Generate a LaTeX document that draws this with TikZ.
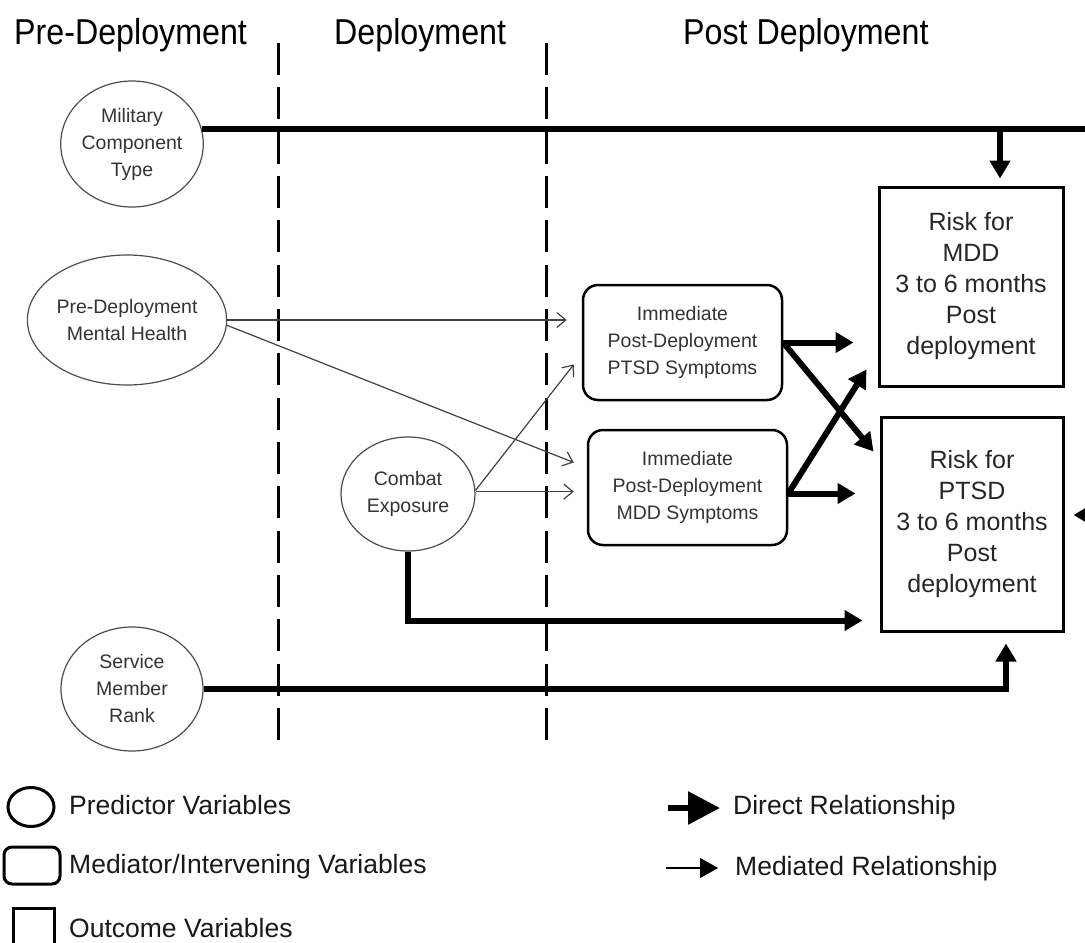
\documentclass[tikz,border=0pt]{standalone}
\usepackage{fontspec}
\usepackage{graphicx}
\setmainfont{Liberation Sans}
\usetikzlibrary{arrows.meta,shapes.geometric}

\tikzset{
  predictor/.style={ellipse, draw=black!70, line width=1.2pt, inner sep=0pt,
    align=center, text=black!80, font=\fontsize{19.5}{27}\selectfont},
  mediator/.style={rectangle, rounded corners=15pt, draw, line width=2.5pt,
    inner sep=0pt, align=center, text=black!80, font=\fontsize{19.5}{27}\selectfont},
  outcome/.style={rectangle, draw, line width=3pt, inner sep=0pt,
    align=center, text=black!85, font=\fontsize{25}{31}\selectfont},
  direct/.style={line width=6pt, line join=miter,
    -{Triangle[length=18pt,width=20pt]}},
  mediated/.style={line width=1.2pt, draw=black!75,
    -{Straight Barb[length=9pt,width=15pt]}},
  divider/.style={line width=3pt, dash pattern=on 32pt off 12.33pt},
  phase/.style={font=\fontsize{36}{40}\selectfont, anchor=base west, inner sep=0pt},
  legendtext/.style={font=\fontsize{26.5}{30}\selectfont, anchor=base west,
    inner sep=0pt, text=black!90},
}

\begin{document}
\begin{tikzpicture}[x=1pt, y=-1pt]
  \useasboundingbox (0,0) rectangle (1085,943);

  % phase headings
  \node[phase] (hPre)  at (14,44.5)  {\scalebox{0.895}[1]{Pre-Deployment}};
  \node[phase] (hDep)  at (334,44.5) {\scalebox{0.895}[1]{Deployment}};
  \node[phase] (hPost) at (683,44.5) {\scalebox{0.895}[1]{Post Deployment}};

  % phase dividers
  \draw[divider] (278,43) -- (278,740);
  \draw[divider] (546,43) -- (546,740);

  % predictors
  \node[predictor, minimum width=142, minimum height=126] (Mil)  at (132,144) {Military\\Component\\Type};
  \node[predictor, minimum width=170, minimum height=130] (PDMH) at (127,320) {Pre-Deployment\\Mental Health};
  \node[predictor, minimum width=134, minimum height=114] (Comb) at (408,494) {Combat\\Exposure};
  \node[predictor, minimum width=142, minimum height=124] (Rank) at (132,689) {Service\\Member\\Rank};

  % mediators
  \node[mediator, minimum width=199, minimum height=115] (PTSDmed) at (682.5,342.5) {Immediate\\Post-Deployment\\PTSD Symptoms};
  \node[mediator, minimum width=199, minimum height=115] (MDDmed)  at (687.5,487.5) {Immediate\\Post-Deployment\\MDD Symptoms};

  % outcomes
  \node[outcome, minimum width=184, minimum height=199] (MDDout)  at (971,286.5) {Risk for\\MDD\\3 to 6 months\\Post\\deployment};
  \node[outcome, minimum width=182, minimum height=214] (PTSDout) at (972,524)   {Risk for\\PTSD\\3 to 6 months\\Post\\deployment};

  % helper points
  \coordinate (edgeR) at (1100,0);
  \coordinate (tapTip)  at ([xshift=29pt,yshift=7pt]MDDout.north);
  \coordinate (rightIn) at ([xshift=9pt,yshift=9pt]PTSDout.east);
  \coordinate (rankTip) at ([xshift=34pt,yshift=-11pt]PTSDout.south);
  \coordinate (combTip) at ([xshift=-17pt,yshift=12pt]PTSDout.south west);
  \coordinate (pmA) at ([xshift=-15pt]PTSDmed.west);
  \coordinate (pmB) at ([xshift=-13pt,yshift=25pt]MDDmed.west);
  \coordinate (cmA) at ([xshift=-8pt,yshift=-22pt]PTSDmed.west);
  \coordinate (cmB) at ([xshift=-13pt]MDDmed.west);
  \coordinate (oA)  at ([xshift=-24pt]MDDout.west);
  \coordinate (oB)  at ([xshift=-6pt,yshift=-36pt]PTSDout.north west);
  \coordinate (oC)  at ([xshift=-24pt]PTSDout.west);
  \coordinate (oD)  at ([xshift=-11pt,yshift=18pt]MDDout.south west);
  \coordinate (mdOut) at ([yshift=-6pt]MDDmed.east);

  % direct relationships
  \draw[line width=6pt] (Mil.12) -- (Mil.12 -| edgeR);
  \draw[direct] (tapTip |- Mil.12) -- (tapTip);
  \draw[direct] (rightIn -| edgeR) -- (rightIn);
  \draw[direct] (Comb.south) |- (combTip);
  \draw[direct] (Rank.east) -| (rankTip);

  % mediated relationships
  \draw[mediated] (PDMH.east) -- (PDMH.east -| pmA);
  \draw[mediated] (PDMH.-3) -- (pmB);
  \draw[mediated] (Comb.3) -- (cmA);
  \draw[mediated] (Comb.2) -- (Comb.2 -| cmB);

  % mediators to outcomes
  \draw[direct] (PTSDmed.east) -- (PTSDmed.east -| oA);
  \draw[direct] (PTSDmed.east) -- (oB);
  \draw[direct] (mdOut) -- (mdOut -| oC);
  \draw[direct] (mdOut) -- (oD);

  % legend: variable types
  \node[ellipse, draw, line width=3pt, minimum width=46, minimum height=39, inner sep=0pt] (lgE) at (31,807) {};
  \node[rectangle, rounded corners=8pt, draw, line width=3pt, minimum width=56, minimum height=37, inner sep=0pt] (lgR) at (32,865.5) {};
  \node[rectangle, draw, line width=3pt, minimum width=41, minimum height=41, inner sep=0pt] (lgS) at (33.5,928.5) {};
  \node[legendtext] (lgEt) at (69,814) {Predictor Variables};
  \node[legendtext] (lgRt) at (69,873) {Mediator/Intervening Variables};
  \node[legendtext] (lgSt) at (69,937) {Outcome Variables};

  % legend: relationship types
  \coordinate (lgD0) at (668,808);
  \coordinate (lgD1) at (720,808);
  \coordinate (lgM0) at (666,868);
  \coordinate (lgM1) at (718,868);
  \draw[line width=6pt, -{Triangle[length=32pt,width=32pt]}] (lgD0) -- (lgD1);
  \draw[line width=1.2pt, -{Triangle[length=18pt,width=20pt]}] (lgM0) -- (lgM1);
  \node[legendtext] (lgDt) at (733,814) {Direct Relationship};
  \node[legendtext] (lgMt) at (735,875) {Mediated Relationship};
\end{tikzpicture}
\end{document}
